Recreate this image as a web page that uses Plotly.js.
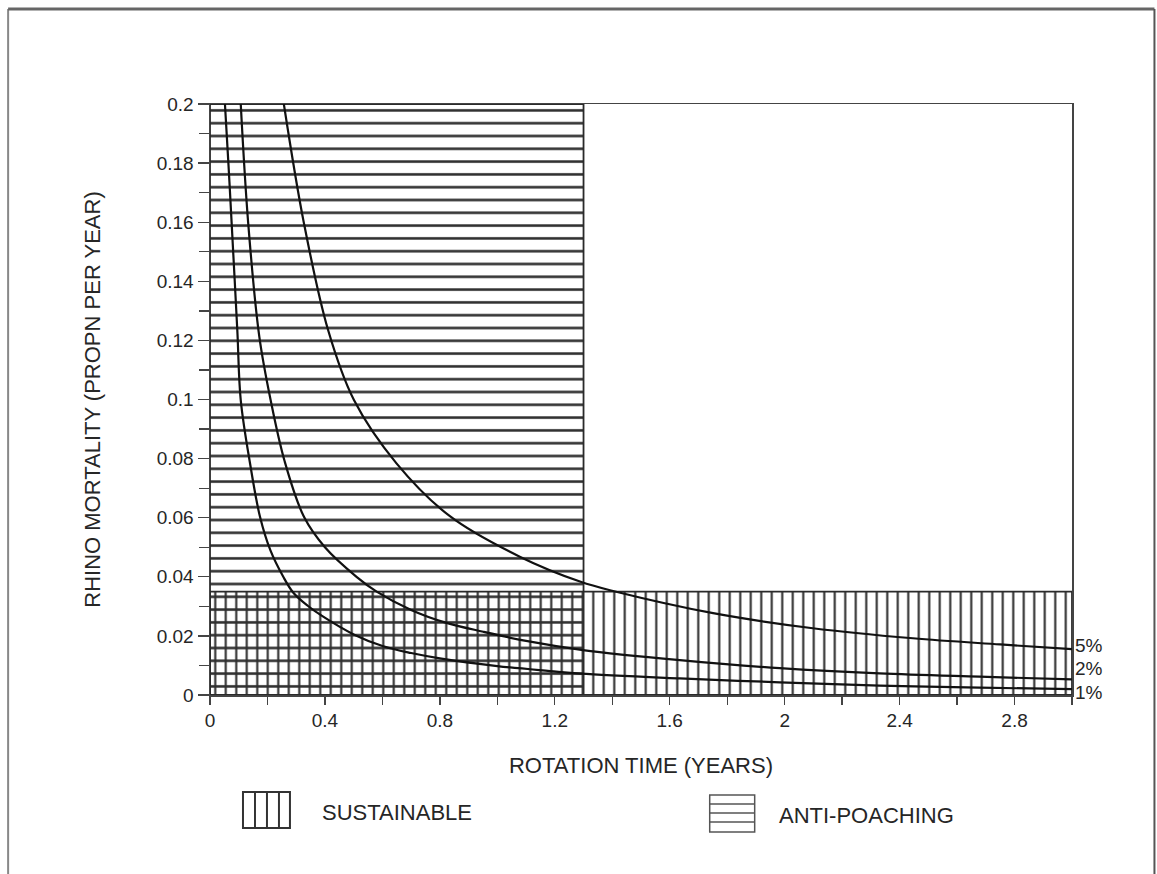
<!DOCTYPE html>
<html>
<head>
<meta charset="utf-8">
<script src="https://cdn.plot.ly/plotly-3.0.1.min.js"></script>
<style>
  html, body { margin: 0; padding: 0; background: #ffffff; }
  #chart { width: 1157px; height: 874px; }
</style>
</head>
<body>
<div id="chart"></div>
<script>
// ---- Data ----
// 1% curve
const x1 = [0.052, 0.064, 0.0754, 0.095, 0.107, 0.14, 0.174, 0.21, 0.255, 0.29, 0.34, 0.394, 0.5, 0.603, 0.7, 0.8, 1.0, 1.183, 1.29, 1.635, 1.983, 2.33, 2.678, 3.0];
const y1 = [0.2, 0.18, 0.1596, 0.1235, 0.0998, 0.078, 0.0603, 0.049, 0.040, 0.0346, 0.0302, 0.0265, 0.0205, 0.0165, 0.0142, 0.0124, 0.0098, 0.0081, 0.0072, 0.0056, 0.0043, 0.0032, 0.0025, 0.002];
// 2% curve
const x2 = [0.107, 0.133, 0.172, 0.211, 0.26, 0.327, 0.4, 0.51, 0.58, 0.7, 0.82, 0.951, 1.1, 1.298, 1.635, 1.983, 2.33, 2.678, 3.0];
const y2 = [0.2, 0.1596, 0.121, 0.0998, 0.079, 0.0603, 0.050, 0.040, 0.035, 0.0288, 0.0245, 0.0214, 0.0183, 0.0152, 0.0118, 0.0091, 0.0073, 0.0062, 0.0053];
// 5% curve
const x5 = [0.257, 0.327, 0.411, 0.501, 0.649, 0.835, 1.078, 1.29, 1.403, 1.751, 2.098, 2.446, 2.75, 3.0];
const y5 = [0.2, 0.1596, 0.1235, 0.0998, 0.0784, 0.0605, 0.0468, 0.0383, 0.0352, 0.0277, 0.0226, 0.0192, 0.0171, 0.0155];

const curveLabels = ["5%", "2%", "1%"];
const curveLabelY = [0.0169, 0.0091, 0.001];

// Regions
const antiPoachingX = [0, 1.3];
const antiPoachingY = [0, 0.2];
const sustainableX = [0, 3.0];
const sustainableY = [0, 0.035];

const legendLabels = ["SUSTAINABLE", "ANTI-POACHING"];
const xTitle = "ROTATION TIME (YEARS)";
const yTitle = "RHINO MORTALITY (PROPN PER YEAR)";

// ---- Layout helpers ----
const W = 1157, H = 874;
const L = 210, R = 1072.5, T = 104, B = 695;
const px = v => (v - L) / (R - L);
const py = v => (B - v) / (B - T);

const FONT = "'Liberation Sans', Arial, sans-serif";
const INK = "#262626";

function rectTrace(xr, yr, shape, size) {
  return {
    x: [xr[0], xr[1], xr[1], xr[0], xr[0]],
    y: [yr[0], yr[0], yr[1], yr[1], yr[0]],
    mode: "lines",
    fill: "toself",
    fillcolor: "rgba(0,0,0,0)",
    fillpattern: { shape: shape, fgcolor: "#2e2e2e", bgcolor: "rgba(0,0,0,0)", size: size, solidity: 0.2 },
    line: { color: "#2a2a2a", width: 1.8 },
    hoverinfo: "skip",
    showlegend: false
  };
}

function curve(x, y) {
  return { x: x, y: y, mode: "lines", line: { color: "#111", width: 2.2, shape: "spline", smoothing: 1.0 }, showlegend: false };
}

const data = [
  rectTrace(antiPoachingX, antiPoachingY, "-", 12.8),
  rectTrace(sustainableX, sustainableY, "|", 10.5),
  curve(x1, y1),
  curve(x2, y2),
  curve(x5, y5)
];

const annotations = curveLabels.map((t, i) => ({
  x: 3.0, y: curveLabelY[i], xref: "x", yref: "y", text: t, showarrow: false,
  xanchor: "left", yanchor: "middle", xshift: 1,
  font: { family: FONT, size: 19, color: INK }
}));
annotations.push({
  x: px(320), y: py(812), xref: "paper", yref: "paper", text: legendLabels[0], showarrow: false,
  xanchor: "left", yanchor: "middle", font: { family: FONT, size: 22, color: INK }
});
annotations.push({
  x: px(777), y: py(815), xref: "paper", yref: "paper", text: legendLabels[1], showarrow: false,
  xanchor: "left", yanchor: "middle", font: { family: FONT, size: 22, color: INK }
});

const shapes = [];
function pline(x0, y0, x1, y1, w, c) {
  shapes.push({ type: "line", xref: "paper", yref: "paper", x0: px(x0), y0: py(y0), x1: px(x1), y1: py(y1), line: { color: c || "#333", width: w || 1.6 } });
}
// Legend icon: sustainable (vertical lines)
shapes.push({ type: "rect", xref: "paper", yref: "paper", x0: px(243), x1: px(290), y0: py(828), y1: py(792), line: { color: "#333", width: 2 } });
[255, 267, 279].forEach(v => pline(v, 792, v, 828, 2));
// Legend icon: anti-poaching (horizontal lines)
shapes.push({ type: "rect", xref: "paper", yref: "paper", x0: px(710), x1: px(755), y0: py(832), y1: py(795), line: { color: "#555", width: 1.5 } });
[804, 813, 822].forEach(v => pline(710, v, 755, v, 1.5, "#555"));
// Outer frame of the figure
pline(8, 9, 8, 874, 2, "#888");
pline(8, 9, 1155, 9, 3, "#666");
pline(1155, 9, 1155, 874, 2, "#555");

const layout = {
  width: W, height: H,
  margin: { l: L, r: W - R, t: T, b: H - B, pad: 0 },
  paper_bgcolor: "#ffffff",
  plot_bgcolor: "#ffffff",
  showlegend: false,
  font: { family: FONT, color: INK, size: 19 },
  xaxis: {
    range: [0, 3.0], tick0: 0, dtick: 0.4, ticks: "outside", ticklen: 8, tickwidth: 1.3, tickcolor: "#444",
    minor: { dtick: 0.2, tick0: 0, ticks: "outside", ticklen: 8, tickwidth: 1.3, tickcolor: "#444" },
    showgrid: false, zeroline: false, showline: true, mirror: true, linecolor: "#444", linewidth: 1.5,
    tickfont: { family: FONT, size: 19, color: INK },
    title: { text: xTitle, standoff: 27, font: { family: FONT, size: 22, color: INK } },
    fixedrange: true
  },
  yaxis: {
    range: [0, 0.2], tick0: 0, dtick: 0.02, ticks: "outside", ticklen: 11, tickwidth: 1.3, tickcolor: "#444",
    minor: { dtick: 0.01, tick0: 0, ticks: "outside", ticklen: 10, tickwidth: 1.3, tickcolor: "#444" },
    showgrid: false, zeroline: false, showline: true, mirror: true, linecolor: "#444", linewidth: 1.5,
    tickfont: { family: FONT, size: 19, color: INK },
    title: { text: yTitle, standoff: 50, font: { family: FONT, size: 22, color: INK } },
    fixedrange: true
  },
  annotations: annotations,
  shapes: shapes
};

Plotly.newPlot("chart", data, layout, { staticPlot: true, displayModeBar: false });
</script>
</body>
</html>
